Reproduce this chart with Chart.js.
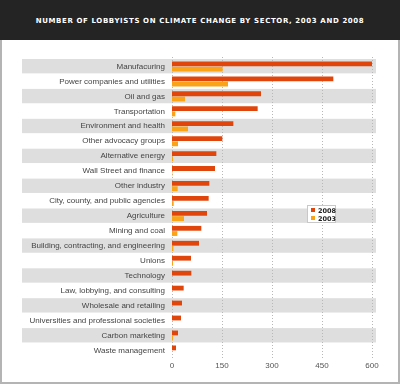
<!DOCTYPE html>
<html>
<head>
<meta charset="utf-8">
<script src="https://cdn.jsdelivr.net/npm/chart.js@4.4.1/dist/chart.umd.min.js"></script>
<style>
  html,body{margin:0;padding:0;background:#fff;}
  #wrap{position:relative;width:400px;height:384px;overflow:hidden;background:#fff;}
  #head{position:absolute;left:0;top:0;width:400px;height:40px;background:#242424;color:#fff;
        font-family:"DejaVu Sans",sans-serif;font-weight:bold;font-size:7px;letter-spacing:0.62px;
        text-align:center;line-height:42px;white-space:nowrap;}
  #panel{position:absolute;left:0;top:40px;width:400px;height:344px;box-sizing:border-box;
         border-left:2px solid #b4b4b4;border-right:2px solid #b4b4b4;border-bottom:2px solid #b4b4b4;}
  #cv{position:absolute;left:0;top:40px;}
  #legend{position:absolute;left:307px;top:205px;width:29px;height:18px;box-sizing:border-box;
          border:1px solid #c8c8c8;background:#fff;font-family:"DejaVu Sans",sans-serif;
          font-weight:bold;font-size:6.5px;color:#222;}
  .li{position:absolute;left:3px;height:8px;line-height:8px;white-space:nowrap;}
  .sw{display:inline-block;width:4px;height:4px;margin-right:3px;vertical-align:middle;position:relative;top:-1px;}
</style>
</head>
<body>
<div id="wrap">
  <div id="head">NUMBER OF LOBBYISTS ON CLIMATE CHANGE BY SECTOR, 2003 AND 2008</div>
  <div id="panel"></div>
  <canvas id="cv" width="400" height="344"></canvas>
  <div id="legend">
    <div class="li" style="top:1px"><span class="sw" style="background:#E0460C"></span>2008</div>
    <div class="li" style="top:9px"><span class="sw" style="background:#FBA318"></span>2003</div>
  </div>
</div>
<script>
const categories = [
  "Manufacuring",
  "Power companies and utilities",
  "Oil and gas",
  "Transportation",
  "Environment and health",
  "Other advocacy groups",
  "Alternative energy",
  "Wall Street and finance",
  "Other industry",
  "City, county, and public agencies",
  "Agriculture",
  "Mining and coal",
  "Building, contracting, and engineering",
  "Unions",
  "Technology",
  "Law, lobbying, and consulting",
  "Wholesale and retailing",
  "Universities and professional societies",
  "Carbon marketing",
  "Waste management"
];
const values2008 = [600, 484, 267, 257, 184, 151, 133, 129, 112, 110, 105, 88, 81, 57, 58, 35, 30, 27, 18, 12];
const values2003 = [152, 168, 39, 10, 48, 18, 3, 1, 17, 5, 36, 16, 4, 3, 0, 0, 0, 0, 3, 0];
const xTicks = [0, 150, 300, 450, 600];

const bandPlugin = {
  id: 'bands',
  beforeDraw(chart) {
    const ctx = chart.ctx;
    const y = chart.scales.y;
    const n = categories.length;
    const step = (y.bottom - y.top) / n;
    ctx.save();
    ctx.fillStyle = '#dedede';
    for (let i = 0; i < n; i += 2) {
      const c = y.getPixelForValue(i);
      ctx.fillRect(22, c - step / 2, 354, step - 0.6);
    }
    ctx.restore();
  },
  beforeDatasetsDraw(chart) {
    const ctx = chart.ctx;
    const x = chart.scales.x;
    const a = chart.chartArea;
    ctx.save();
    ctx.strokeStyle = '#b8b8b8';
    ctx.lineWidth = 1;
    ctx.setLineDash([1, 2]);
    xTicks.forEach(v => {
      const px = Math.round(x.getPixelForValue(v)) + 0.5;
      ctx.beginPath();
      ctx.moveTo(px, a.top - 2);
      ctx.lineTo(px, a.bottom);
      ctx.stroke();
    });
    ctx.restore();
  }
};

new Chart(document.getElementById('cv'), {
  type: 'bar',
  data: {
    labels: categories,
    datasets: [
      { label: '2008', data: values2008, backgroundColor: '#E0460C', borderWidth: 0,
        barPercentage: 0.92, categoryPercentage: 0.7 },
      { label: '2003', data: values2003, backgroundColor: '#FBA318', borderWidth: 0,
        barPercentage: 0.92, categoryPercentage: 0.7 }
    ]
  },
  options: {
    indexAxis: 'y',
    responsive: false,
    animation: false,
    devicePixelRatio: 1,
    layout: { padding: { top: 19, right: 28, left: 0, bottom: 0 } },
    plugins: { legend: { display: false }, tooltip: { enabled: false }, title: { display: false } },
    scales: {
      x: {
        min: 0, max: 600,
        afterBuildTicks(scale) { scale.ticks = xTicks.map(v => ({ value: v })); },
        afterFit(scale) { scale.height = 26; },
        grid: { display: false, drawTicks: false },
        border: { display: false },
        ticks: { padding: 3, color: '#555', font: { family: 'Liberation Sans', size: 8 } }
      },
      y: {
        afterFit(scale) { scale.width = 172; },
        grid: { display: false, drawTicks: false },
        border: { display: false },
        ticks: { padding: 7, color: '#444', autoSkip: false, font: { family: 'Liberation Sans', size: 8 } }
      }
    }
  },
  plugins: [bandPlugin]
});
</script>
</body>
</html>
